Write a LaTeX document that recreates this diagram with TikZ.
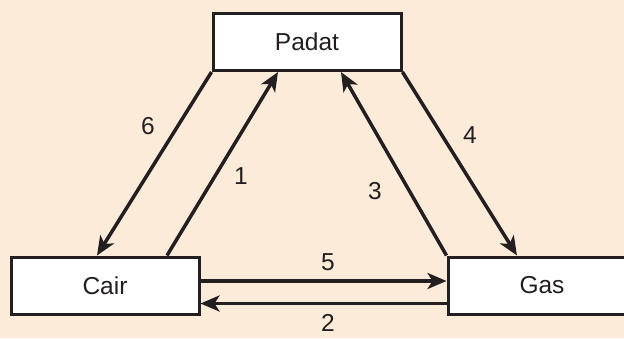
\documentclass[tikz,border=0pt]{standalone}
\usepackage{fontspec}
\setmainfont{Liberation Sans}
\usepackage{xcolor}
\usetikzlibrary{arrows.meta, positioning, calc}
\definecolor{peach}{HTML}{FDEBDA}
\definecolor{ink}{HTML}{231F20}
\tikzstyle{arrow} = [line width=3.5pt, -{Stealth[length=19pt,width=16pt,inset=5pt]}, draw=ink]

\begin{document}
\begin{tikzpicture}[
		x=1pt, y=-1pt,
		every node/.style={font=\fontsize{24.5}{28}\selectfont, text=ink},
		box/.style={draw=ink, line width=3pt, fill=white, minimum width=188pt, minimum height=57pt, inner sep=0pt},
		num/.style={inner sep=0pt}
		]
		
		% Background
		\fill[peach] (0,0) rectangle (624,338);
		\clip (0,0) rectangle (624,338);
		
		% Nodes
		\node[box] (padat) at (307,42) {Padat};
		\node[box] (cair) at (105,285.5) {Cair};
		\node[box] (gas) at (542,285.5) {Gas};
		
		% Arrows
		\draw[arrow] (padat.south west) -- ([xshift=-8pt]cair.north);
		\draw[arrow] ([xshift=62pt]cair.north) -- ([xshift=-29pt]padat.south);
		\draw[arrow] (gas.north west) -- ([xshift=34pt]padat.south);
		\draw[arrow] (padat.south east) -- ([xshift=-25pt]gas.north);
		\draw[arrow] ([yshift=4.5pt]cair.east) -- ([yshift=4.5pt]gas.west);
		\draw[arrow] ([yshift=-18pt]gas.west) -- ([yshift=-18pt]cair.east);
		
		% Labels
		\node[num] (n6) at (148,126) {6};
		\node[num] (n1) at (241,176) {1};
		\node[num] (n3) at (375,191) {3};
		\node[num] (n4) at (470,135) {4};
		\node[num] (n5) at (328,262) {5};
		\node[num] (n2) at (328,323) {2};
		
	\end{tikzpicture}
\end{document}
